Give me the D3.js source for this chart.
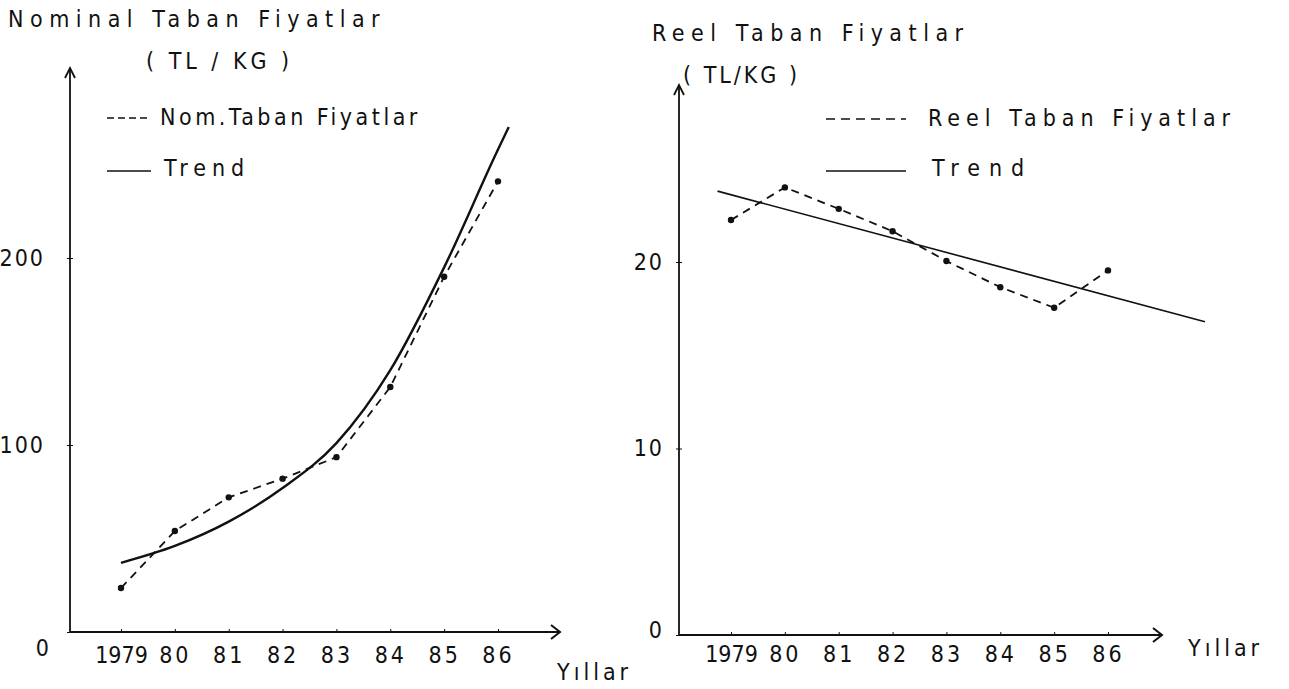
<!DOCTYPE html>
<html>
<head>
<meta charset="utf-8">
<script src="https://cdn.jsdelivr.net/npm/d3@7"></script>
<style>
  body { margin: 0; background: #fff; }
  svg { display: block; }
  text { font-family: "Liberation Sans Narrow", "DejaVu Sans Condensed", sans-serif; fill: #111; }
</style>
</head>
<body>
<svg width="1289" height="689"></svg>
<script>
// data
const years = [1979, 1980, 1981, 1982, 1983, 1984, 1985, 1986];
const yearLabels = ["1979", "80", "81", "82", "83", "84", "85", "86"];

const nominalPrices = [23.5, 54, 72, 82, 93.5, 131, 190, 241];
const nominalTrendYears = [1979, 1980, 1981, 1982, 1983, 1984, 1985, 1986, 1986.2];
const nominalTrendValues = [37, 46, 59, 77, 101, 140, 195, 258, 270];
const nominalTicks = [0, 100, 200];

const realPrices = [22.25, 24.0, 22.85, 21.65, 20.05, 18.65, 17.55, 19.55];
const realTrendYears = [1978.75, 1987.8];
const realTrendValues = [23.8, 16.8];
const realTicks = [0, 10, 20];

const svg = d3.select("svg");

function drawPanel(p) {
    const g = svg.append("g");

    const x = d3.scaleLinear().domain([1979, 1986]).range(p.xRange);
    const y = d3.scaleLinear().domain(p.yDomain).range(p.yRange);

    // axes
    const xAxis = d3.axisBottom(x)
        .tickValues(years)
        .tickFormat((d, i) => yearLabels[i])
        .tickSize(-3)
        .tickPadding(p.xPad)
        .tickSizeOuter(0);
    const xg = g.append("g")
        .attr("transform", `translate(0,${p.y0})`)
        .call(xAxis);
    xg.select(".domain").remove();
    xg.selectAll(".tick line").attr("stroke", "#111");
    xg.selectAll(".tick text")
        .attr("font-size", 23)
        .attr("letter-spacing", (d, i) => i === 0 ? 0 : 3)
        .attr("dy", "0.4em")
        .attr("fill", "#111");

    const yAxis = d3.axisLeft(y)
        .tickValues(p.yTicks)
        .tickSize(3)
        .tickPadding(p.yPad)
        .tickSizeOuter(0);
    const yg = g.append("g")
        .attr("transform", `translate(${p.x0},0)`)
        .call(yAxis);
    yg.select(".domain").remove();
    yg.selectAll(".tick line").attr("stroke", "#111").attr("x2", 3).attr("x1", -3);
    yg.selectAll(".tick text")
        .attr("font-size", 23)
        .attr("letter-spacing", 2)
        .attr("fill", "#111");
    yg.selectAll(".tick").filter(d => d === 0)
        .select("text").attr("dy", p.zeroDy).attr("dx", p.zeroDx);

    // axis lines with open arrows
    g.append("path")
        .attr("d", `M${p.x0},${p.y0}H${p.xEnd}`)
        .attr("stroke", "#111").attr("stroke-width", 2).attr("fill", "none");
    g.append("path")
        .attr("d", `M${p.xEnd - 9},${p.y0 - 7}L${p.xEnd},${p.y0}L${p.xEnd - 9},${p.y0 + 7}`)
        .attr("stroke", "#111").attr("stroke-width", 2).attr("fill", "none");
    g.append("path")
        .attr("d", `M${p.x0},${p.y0}V${p.yTop}`)
        .attr("stroke", "#111").attr("stroke-width", 1.8).attr("fill", "none");
    g.append("path")
        .attr("d", `M${p.x0 - 5},${p.yTop + 10}L${p.x0},${p.yTop}L${p.x0 + 5},${p.yTop + 10}`)
        .attr("stroke", "#111").attr("stroke-width", 1.8).attr("fill", "none");

    // trend
    const trendLine = d3.line()
        .x(d => x(d[0]))
        .y(d => y(d[1]))
        .curve(p.trendCurve);
    g.append("path")
        .datum(d3.zip(p.trendYears, p.trendValues))
        .attr("d", trendLine)
        .attr("stroke", "#111")
        .attr("stroke-width", p.trendWidth)
        .attr("fill", "none");

    // observed prices, dashed with dots
    const dataLine = d3.line()
        .x(d => x(d[0]))
        .y(d => y(d[1]));
    g.append("path")
        .datum(d3.zip(years, p.values))
        .attr("d", dataLine)
        .attr("stroke", "#111")
        .attr("stroke-width", 1.8)
        .attr("stroke-dasharray", "8,6")
        .attr("fill", "none");
    g.selectAll("circle.pt")
        .data(d3.zip(years, p.values))
        .enter().append("circle")
        .attr("class", "pt")
        .attr("cx", d => x(d[0]))
        .attr("cy", d => y(d[1]))
        .attr("r", 3.2)
        .attr("fill", "#111");

    // titles
    g.append("text")
        .attr("x", p.titleX).attr("y", p.titleY)
        .attr("font-size", 23).attr("letter-spacing", p.titleSpacing)
        .text(p.title);
    g.append("text")
        .attr("x", p.unitX).attr("y", p.titleY + 42)
        .attr("font-size", 23).attr("letter-spacing", p.unitSpacing)
        .text(p.unit);

    // legend
    const lg = g.append("g");
    lg.append("path")
        .attr("d", `M${p.legX},${p.legY1 - 7}H${p.legX + p.legLen}`)
        .attr("stroke", "#111").attr("stroke-width", 1.6)
        .attr("stroke-dasharray", p.legDash);
    lg.append("text")
        .attr("x", p.legTextX).attr("y", p.legY1)
        .attr("font-size", 23).attr("letter-spacing", p.legSpacing)
        .text(p.legLabel);
    lg.append("path")
        .attr("d", `M${p.legX},${p.legY2 - 5}H${p.legX + p.legLen}`)
        .attr("stroke", "#111").attr("stroke-width", 1.6);
    lg.append("text")
        .attr("x", p.legTextX + 4).attr("y", p.legY2)
        .attr("font-size", 23).attr("letter-spacing", p.trendSpacing)
        .text("Trend");

    // x axis name
    g.append("text")
        .attr("x", p.yilX).attr("y", p.yilY)
        .attr("font-size", 23).attr("letter-spacing", 4)
        .text("Yıllar");
}

drawPanel({
    xRange: [121, 498], yDomain: [0, 200], yRange: [632, 258],
    x0: 70, y0: 632, xEnd: 560, yTop: 68,
    xPad: 22, yPad: 22, zeroDy: "1.0em", zeroDx: 6, yTicks: nominalTicks,
    values: nominalPrices, trendYears: nominalTrendYears, trendValues: nominalTrendValues,
    trendCurve: d3.curveMonotoneX, trendWidth: 2.4,
    title: "Nominal Taban Fiyatlar", titleX: 8, titleY: 27, titleSpacing: 6.5,
    unit: "( TL / KG )", unitX: 146, unitSpacing: 4,
    legX: 107, legLen: 44, legDash: "7,4", legY1: 125, legY2: 176,
    legTextX: 160, legLabel: "Nom.Taban Fiyatlar", legSpacing: 3.5, trendSpacing: 6,
    yilX: 557, yilY: 680
});

drawPanel({
    xRange: [731, 1108], yDomain: [0, 20], yRange: [635, 262],
    x0: 679, y0: 635, xEnd: 1162, yTop: 85,
    xPad: 18, yPad: 12, zeroDy: "0.1em", zeroDx: 0, yTicks: realTicks,
    values: realPrices, trendYears: realTrendYears, trendValues: realTrendValues,
    trendCurve: d3.curveLinear, trendWidth: 1.6,
    title: "Reel Taban Fiyatlar", titleX: 652, titleY: 41, titleSpacing: 6.5,
    unit: "( TL/KG )", unitX: 683, unitSpacing: 3,
    legX: 826, legLen: 80, legDash: "9,6", legY1: 126, legY2: 176,
    legTextX: 928, legLabel: "Reel Taban Fiyatlar", legSpacing: 6, trendSpacing: 9,
    yilX: 1188, yilY: 656
});
</script>
</body>
</html>
